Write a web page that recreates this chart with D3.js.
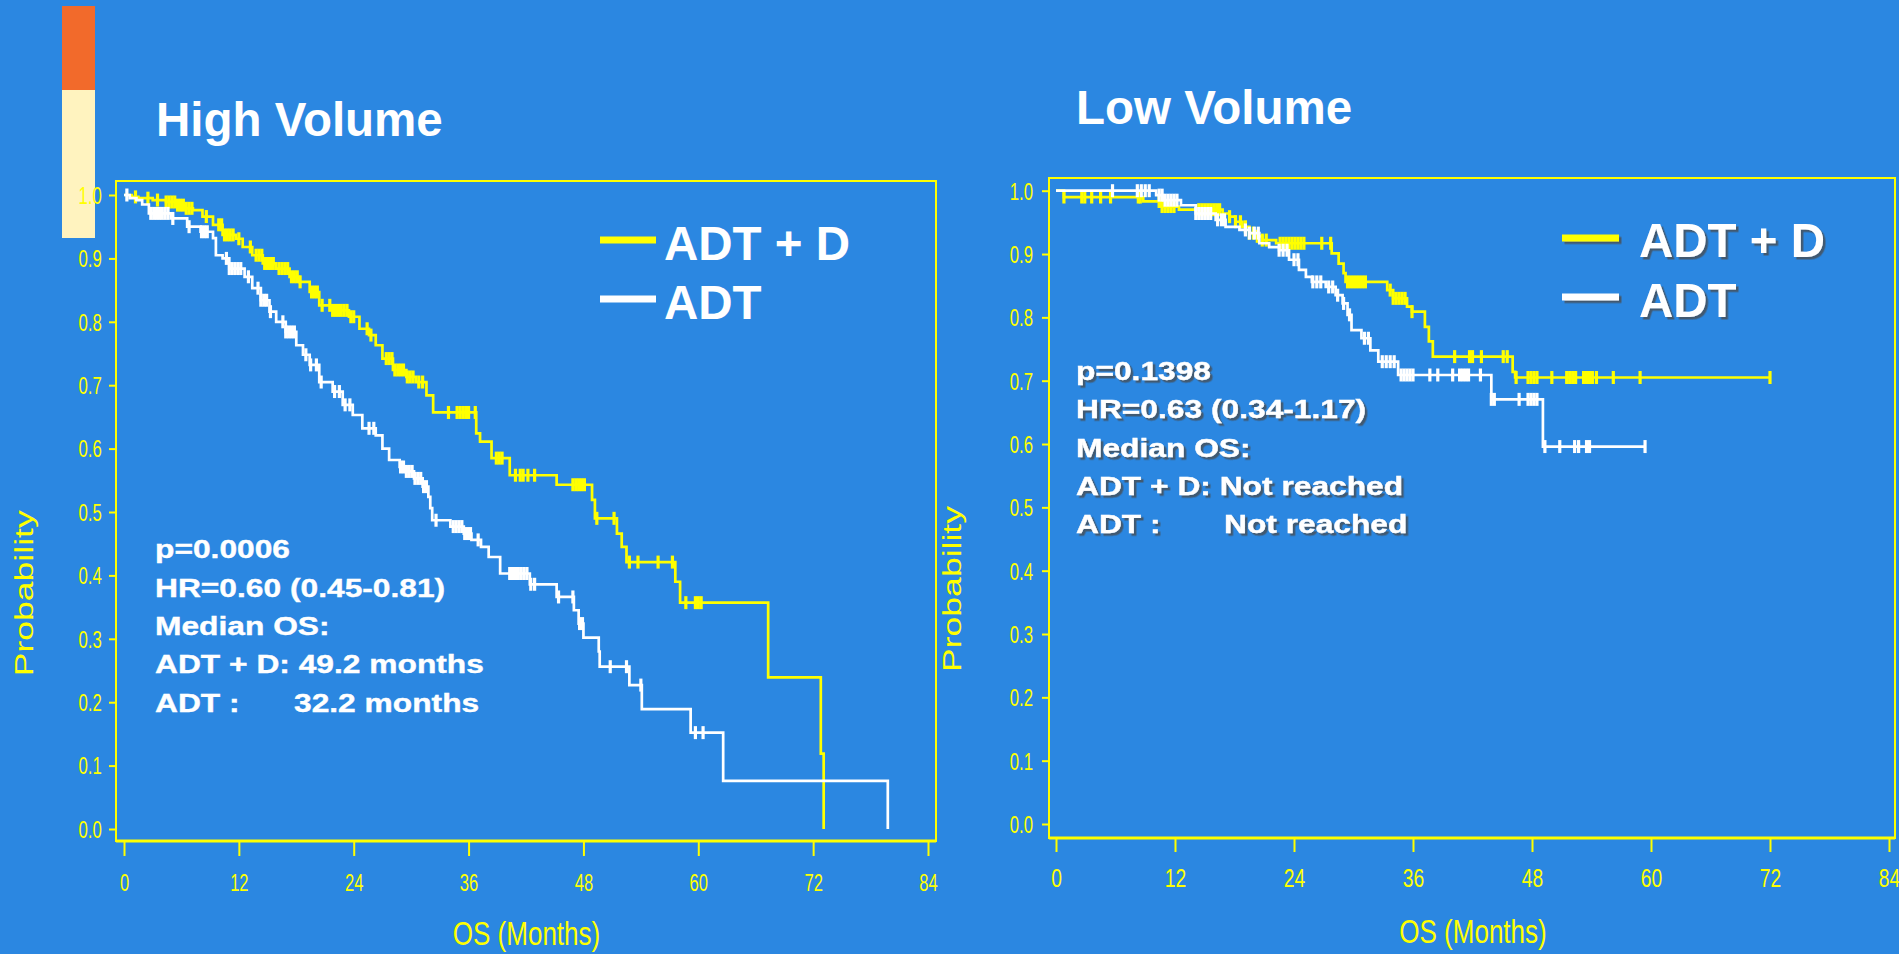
<!DOCTYPE html>
<html>
<head>
<meta charset="utf-8">
<script src="https://cdn.jsdelivr.net/npm/d3@7"></script>
<style>
  html, body { margin: 0; padding: 0; background: #2b87e1; overflow: hidden; }
  svg { display: block; }
</style>
</head>
<body>
<svg id="chart" width="1899" height="954"></svg>
<script>
// ---- axis ticks ----
const monthTicks = [0, 12, 24, 36, 48, 60, 72, 84];
const probTicks = [0, 0.1, 0.2, 0.3, 0.4, 0.5, 0.6, 0.7, 0.8, 0.9, 1.0];

// ---- High volume: ADT + D (Kaplan-Meier steps as [month, survival]) ----
const highDocSteps = [
  [0, 1.0], [0.8, 0.997], [1.5, 0.995], [3.0, 0.992], [4.4, 0.989], [5.5, 0.984],
  [6.3, 0.979], [7.2, 0.976], [8.2, 0.966], [9.3, 0.953], [10.3, 0.937], [11.7, 0.931],
  [12.4, 0.918], [13.4, 0.905], [14.5, 0.892], [15.9, 0.884], [17.3, 0.871], [18.3, 0.863],
  [19.4, 0.847], [20.4, 0.826], [21.8, 0.818], [23.5, 0.808], [24.6, 0.789], [25.6, 0.779],
  [26.3, 0.763], [27.0, 0.742], [28.1, 0.724], [29.5, 0.713], [30.5, 0.705], [31.6, 0.684],
  [32.3, 0.657], [36.8, 0.624], [37.2, 0.611], [38.4, 0.585], [40.3, 0.558], [45.2, 0.543],
  [48.9, 0.519], [49.2, 0.490], [51.5, 0.466], [52.0, 0.445], [52.5, 0.421], [57.6, 0.390],
  [58.1, 0.357], [67.3, 0.239], [72.8, 0.119], [73.1, 0.0]
];
const highDocCensor = [
  1.2, 2.5, 3.5, 4.4, 4.7, 5.0, 5.3, 5.6, 5.9, 6.2, 6.5, 6.8, 7.1, 8.6, 9.9, 10.2, 10.5,
  10.8, 11.1, 11.4, 12.0, 13.2, 13.8, 14.1, 14.4, 14.7, 15.0, 15.3, 15.6, 16.2, 16.5, 16.8,
  17.1, 17.5, 17.8, 18.1, 18.4, 19.6, 19.9, 20.2, 20.7, 21.5, 21.8, 22.1, 22.4, 22.7, 23.0,
  23.3, 23.7, 24.0, 25.4, 25.8, 27.4, 27.7, 28.0, 28.3, 28.6, 28.9, 29.2, 29.6, 29.9, 30.2,
  30.8, 31.2, 33.9, 34.8, 35.1, 35.4, 35.7, 36.0, 36.7, 38.9, 39.2, 39.5, 40.9, 41.4, 41.7,
  42.2, 42.9, 46.9, 47.2, 47.5, 47.8, 48.1, 49.4, 51.2, 52.8, 53.7, 55.8, 57.3, 58.7, 59.7,
  60.0, 60.3
];
const highDocEnd = 73.1;

// ---- High volume: ADT ----
const highAdtSteps = [
  [0, 1.0], [0.6, 0.995], [1.3, 0.992], [1.9, 0.985], [2.6, 0.971], [4.9, 0.963],
  [6.6, 0.950], [8.0, 0.942], [9.3, 0.932], [9.6, 0.905], [10.3, 0.900], [11.0, 0.884],
  [12.6, 0.871], [13.4, 0.853], [14.3, 0.834], [15.2, 0.816], [15.9, 0.800], [16.9, 0.784],
  [18.0, 0.763], [18.7, 0.748], [19.4, 0.732], [20.4, 0.705], [21.8, 0.690], [22.85, 0.669],
  [23.9, 0.653], [24.9, 0.632], [26.3, 0.621], [27.0, 0.600], [27.7, 0.582], [28.8, 0.571],
  [29.5, 0.564], [30.3, 0.553], [31.2, 0.540], [31.8, 0.524], [32.0, 0.506], [32.2, 0.487],
  [34.1, 0.477], [35.5, 0.466], [36.3, 0.456], [37.3, 0.445], [38.1, 0.429], [39.3, 0.403],
  [42.4, 0.386], [45.2, 0.366], [47.0, 0.345], [47.5, 0.324], [48.0, 0.302], [49.6, 0.280],
  [49.7, 0.256], [52.8, 0.227], [54.1, 0.189], [59.2, 0.152], [62.6, 0.076], [79.8, 0.0]
];
const highAdtCensor = [
  0.3, 2.8, 3.1, 3.4, 3.7, 4.0, 4.3, 4.6, 5.1, 6.8, 8.1, 8.4, 8.7, 10.7, 11.0, 11.3, 11.6,
  11.9, 12.2, 13.0, 14.0, 14.3, 14.6, 14.9, 15.3, 16.6, 16.9, 17.2, 17.5, 17.8, 19.0, 19.5,
  20.1, 20.6, 22.0, 22.5, 23.1, 23.6, 25.6, 26.1, 28.9, 29.2, 29.5, 29.8, 30.1, 30.4, 30.7,
  31.0, 31.3, 31.6, 32.6, 34.4, 34.7, 35.0, 35.3, 35.6, 35.9, 36.2, 37.0, 40.3, 40.6, 40.9,
  41.2, 41.5, 41.8, 42.1, 42.5, 42.9, 45.4, 46.9, 47.6, 47.9, 50.8, 52.5, 54.0, 59.7, 60.5
];
const highAdtEnd = 79.8;

// ---- Low volume: ADT + D ----
const lowDocSteps = [
  [0, 1.0], [0.8, 0.990], [8.8, 0.983], [10.5, 0.975], [12.4, 0.970], [16.8, 0.964],
  [17.5, 0.959], [18.1, 0.951], [18.8, 0.943], [19.5, 0.933], [20.1, 0.928], [20.8, 0.922],
  [22.2, 0.917], [27.8, 0.901], [28.5, 0.885], [29.0, 0.870], [29.2, 0.856], [33.4, 0.843],
  [34.0, 0.830], [35.4, 0.817], [35.9, 0.809], [37.2, 0.785], [37.6, 0.762], [38.0, 0.738],
  [46.05, 0.714], [46.3, 0.705]
];
const lowDocCensor = [
  0.8, 2.6, 2.9, 3.6, 4.5, 5.5, 8.3, 8.5, 10.4, 10.7, 11.0, 11.3, 11.6, 11.9, 14.4, 14.7,
  15.0, 15.3, 15.6, 15.9, 16.2, 16.5, 17.5, 18.1, 18.6, 19.1, 19.5, 19.9, 20.3, 20.8, 21.2,
  22.6, 22.9, 23.2, 23.5, 23.8, 24.1, 24.4, 24.7, 25.0, 26.8, 27.7, 29.4, 29.7, 30.0, 30.3,
  30.6, 30.9, 31.2, 33.7, 34.0, 34.3, 34.6, 34.9, 35.2, 35.9, 40.2, 41.7, 42.0, 42.9, 45.1,
  45.5, 46.4, 47.6, 47.9, 48.2, 48.5, 50.0, 51.5, 51.8, 52.1, 52.4, 53.2, 53.5, 53.8, 54.1,
  54.5, 56.2, 58.9, 72.0
];
const lowDocEnd = 72.0;

// ---- Low volume: ADT ----
const lowAdtSteps = [
  [0, 1.0], [10.1, 0.993], [10.8, 0.985], [12.6, 0.977], [14.1, 0.964], [16.1, 0.954],
  [17.1, 0.943], [18.5, 0.938], [19.5, 0.933], [20.5, 0.917], [21.5, 0.911], [22.5, 0.906],
  [23.5, 0.891], [24.5, 0.875], [25.2, 0.864], [25.8, 0.856], [27.2, 0.848], [28.2, 0.835],
  [28.9, 0.822], [29.4, 0.804], [29.8, 0.780], [30.8, 0.767], [31.7, 0.748], [32.5, 0.730],
  [34.5, 0.709], [43.9, 0.6705], [49.1, 0.596]
];
const lowAdtCensor = [
  5.7, 8.2, 8.6, 9.0, 9.4, 10.4, 10.7, 11.0, 11.3, 11.6, 11.9, 12.2, 14.1, 14.4, 14.7, 15.0,
  15.3, 15.6, 16.3, 16.7, 17.0, 19.1, 19.5, 20.0, 20.4, 22.5, 22.9, 23.3, 24.0, 24.4, 25.9,
  26.3, 26.7, 27.5, 27.9, 28.4, 29.0, 29.6, 31.1, 31.5, 32.9, 33.3, 33.7, 34.1, 34.8, 35.1,
  35.4, 35.7, 36.0, 37.7, 38.5, 40.0, 40.7, 41.0, 41.3, 41.6, 42.8, 43.9, 44.2, 46.7, 47.6,
  47.9, 48.2, 48.5, 49.3, 50.8, 52.3, 52.7, 53.5, 53.8, 59.4
];
const lowAdtEnd = 59.4;

// ---- text ----
const seriesNames = ["ADT + D", "ADT"];
const panelTitles = ["High Volume", "Low Volume"];
const highStatLines = ["p=0.0006", "HR=0.60 (0.45-0.81)", "Median OS:", "ADT + D: 49.2 months", "ADT :"];
const highAdtMedian = "32.2 months";
const lowStatLines = ["p=0.1398", "HR=0.63 (0.34-1.17)", "Median OS:", "ADT + D: Not reached", "ADT :"];
const lowAdtMedian = "Not reached";

const YELLOW = "#ffff00";
const WHITE = "#ffffff";
const FONT = "'Liberation Sans', Arial, sans-serif";
const svg = d3.select("#chart");

const defs = svg.append("defs");
const shadow = defs.append("filter").attr("id", "txtShadow")
  .attr("x", "-10%").attr("y", "-10%").attr("width", "130%").attr("height", "140%");
shadow.append("feDropShadow").attr("dx", 2.5).attr("dy", 2.5).attr("stdDeviation", 0.6)
  .attr("flood-color", "#4a4a4a").attr("flood-opacity", 0.75);

svg.append("rect").attr("width", 1899).attr("height", 954).attr("fill", "#2b87e1");

// decorative slide bar at top-left
svg.append("rect").attr("x", 62).attr("y", 6).attr("width", 33).attr("height", 84).attr("fill", "#f26a2b");
svg.append("rect").attr("x", 62).attr("y", 90).attr("width", 33).attr("height", 148).attr("fill", "#fff3bf");

const panels = [
  {
    title: panelTitles[0], titleX: 156, titleY: 136,
    frame: [116, 181, 936, 841], xr: [124, 928], yr: [829, 195],
    xAxisY: 842, xTick: 14, xLabY: 48.7, xFont: 24, xSq: 0.69,
    yTick: 7, yGap: 14.3, yFont: 23.3, ySq: 0.72,
    probX: 33.3, probY: 593.3, osX: 526.5, osY: 945,
    leg: { x0: 600, x1: 656, y1: 240, y2: 299, tx: 664, b1: 260, b2: 319 },
    stats: { x: 155, base: 558.3, gap: 38.35, valX: 294, lines: highStatLines, val: highAdtMedian },
    shadow: false,
    curves: [
      { steps: highDocSteps, censor: highDocCensor, end: highDocEnd, color: YELLOW },
      { steps: highAdtSteps, censor: highAdtCensor, end: highAdtEnd, color: WHITE }
    ]
  },
  {
    title: panelTitles[1], titleX: 1076, titleY: 124,
    frame: [1049, 178, 1895, 838], xr: [1056, 1889], yr: [824, 190.7],
    xAxisY: 839, xTick: 13, xLabY: 48, xFont: 26, xSq: 0.74,
    yTick: 7, yGap: 16, yFont: 23.3, ySq: 0.72,
    probX: 961, probY: 589, osX: 1473, osY: 943,
    leg: { x0: 1562, x1: 1619, y1: 238, y2: 297, tx: 1639, b1: 257, b2: 317 },
    stats: { x: 1076, base: 380, gap: 38.25, valX: 1224, lines: lowStatLines, val: lowAdtMedian },
    shadow: true,
    curves: [
      { steps: lowDocSteps, censor: lowDocCensor, end: lowDocEnd, color: YELLOW },
      { steps: lowAdtSteps, censor: lowAdtCensor, end: lowAdtEnd, color: WHITE }
    ]
  }
];

// survival value of a step curve at time t
function survivalAt(steps, t) {
  let p = steps[0][1];
  for (const [st, sp] of steps) { if (st <= t) p = sp; else break; }
  return p;
}

panels.forEach(P => {
  const g = svg.append("g");
  const x = d3.scaleLinear().domain([0, 84]).range(P.xr);
  const y = d3.scaleLinear().domain([0, 1]).range(P.yr);
  const [fx0, fy0, fx1, fy1] = P.frame;

  // title
  g.append("text").attr("x", P.titleX).attr("y", P.titleY)
    .attr("font-family", FONT).attr("font-weight", "bold")
    .attr("font-size", 47.5).attr("fill", WHITE).text(P.title);

  // plot frame
  g.append("rect").attr("x", fx0).attr("y", fy0).attr("width", fx1 - fx0).attr("height", fy1 - fy0)
    .attr("fill", "none").attr("stroke", YELLOW).attr("stroke-width", 2);
  g.append("line").attr("x1", fx0).attr("x2", fx1).attr("y1", fy1).attr("y2", fy1)
    .attr("stroke", YELLOW).attr("stroke-width", 3);

  // y axis
  const yAxis = g.append("g").attr("transform", `translate(${fx0},0)`)
    .call(d3.axisLeft(y).tickValues(probTicks).tickFormat(d3.format(".1f")).tickSize(P.yTick).tickPadding(0));
  yAxis.select(".domain").remove();
  yAxis.selectAll(".tick line").attr("stroke", YELLOW).attr("stroke-width", 2);
  yAxis.selectAll(".tick text")
    .attr("fill", YELLOW).attr("font-family", FONT)
    .attr("font-size", P.yFont).attr("text-anchor", "end")
    .attr("x", -P.yGap / P.ySq).attr("dy", "0.36em")
    .attr("transform", `scale(${P.ySq},1)`);

  // x axis
  const xAxis = g.append("g").attr("transform", `translate(0,${P.xAxisY})`)
    .call(d3.axisBottom(x).tickValues(monthTicks).tickFormat(d3.format("d")).tickSize(P.xTick));
  xAxis.select(".domain").remove();
  xAxis.selectAll(".tick line").attr("stroke", YELLOW).attr("stroke-width", 2);
  xAxis.selectAll(".tick text")
    .attr("fill", YELLOW).attr("font-family", FONT)
    .attr("font-size", P.xFont).attr("text-anchor", "middle")
    .attr("y", P.xLabY).attr("dy", 0)
    .attr("transform", `scale(${P.xSq},1)`);

  // axis titles
  g.append("text")
    .attr("transform", `translate(${P.probX},${P.probY}) rotate(-90) scale(1.39,1)`)
    .attr("text-anchor", "middle").attr("fill", YELLOW)
    .attr("font-family", FONT).attr("font-size", 25.6)
    .text("Probability");
  g.append("text")
    .attr("transform", `translate(${P.osX},${P.osY}) scale(0.8,1)`)
    .attr("text-anchor", "middle").attr("fill", YELLOW)
    .attr("font-family", FONT).attr("font-size", 32.5)
    .text("OS (Months)");

  // survival curves with censoring marks
  const line = d3.line().x(d => x(d[0])).y(d => y(d[1])).curve(d3.curveStepAfter);
  P.curves.forEach(c => {
    const last = c.steps[c.steps.length - 1];
    const pts = c.steps.slice();
    if (c.end > last[0]) pts.push([c.end, last[1]]);
    g.append("path").attr("d", line(pts)).attr("fill", "none")
      .attr("stroke", c.color).attr("stroke-width", 2.7).attr("stroke-linejoin", "miter");
    g.append("g").selectAll("line").data(c.censor).join("line")
      .attr("x1", d => x(d)).attr("x2", d => x(d))
      .attr("y1", d => y(survivalAt(c.steps, d)) - 6.5)
      .attr("y2", d => y(survivalAt(c.steps, d)) + 6.5)
      .attr("stroke", c.color).attr("stroke-width", 3.2);
  });

  // legend
  const lg = g.append("g").attr("filter", P.shadow ? "url(#txtShadow)" : null);
  [[YELLOW, P.leg.y1, P.leg.b1, seriesNames[0]], [WHITE, P.leg.y2, P.leg.b2, seriesNames[1]]]
    .forEach(([col, ly, base, label]) => {
      lg.append("line").attr("x1", P.leg.x0).attr("x2", P.leg.x1).attr("y1", ly).attr("y2", ly)
        .attr("stroke", col).attr("stroke-width", 7);
      lg.append("text").attr("x", P.leg.tx).attr("y", base)
        .attr("font-family", FONT).attr("font-weight", "bold")
        .attr("font-size", 47.5).attr("fill", WHITE).text(label);
    });

  // statistics block
  const sg = g.append("g").attr("filter", P.shadow ? "url(#txtShadow)" : null);
  const statText = (tx, ty, s) => sg.append("text")
    .attr("transform", `translate(${tx},${ty}) scale(1.24,1)`)
    .attr("font-family", FONT).attr("font-weight", "bold")
    .attr("font-size", 25.6).attr("fill", WHITE)
    .attr("stroke", WHITE).attr("stroke-width", 0.4).text(s);
  P.stats.lines.forEach((s, i) => statText(P.stats.x, P.stats.base + i * P.stats.gap, s));
  statText(P.stats.valX, P.stats.base + 4 * P.stats.gap, P.stats.val);
});
</script>
</body>
</html>
